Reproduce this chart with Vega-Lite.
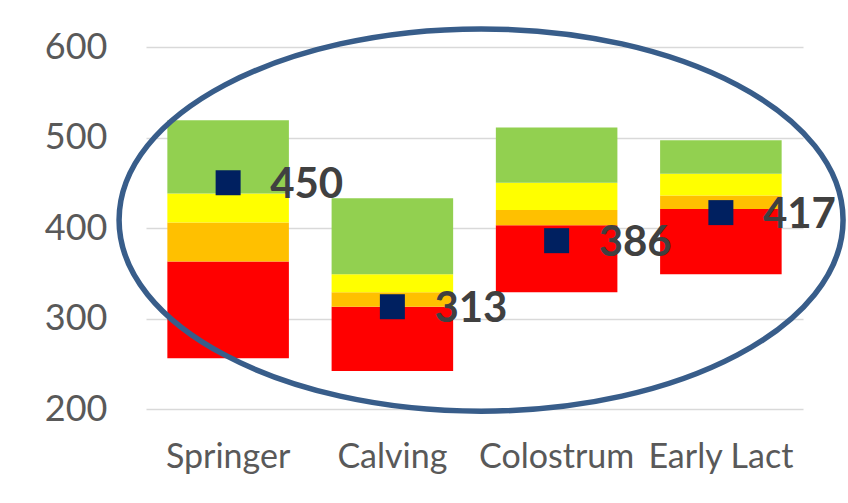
{
  "$schema": "https://vega.github.io/schema/vega-lite/v6.json",
  "width": 657,
  "height": 362,
  "autosize": {"type": "none"},
  "padding": {"left": 146, "top": 47, "right": 45, "bottom": 94},
  "background": "white",
  "config": {"view": {"stroke": null}, "font": "Lato"},
  "datasets": {
    "bands": [
      {"stage": "Springer", "zone": "Red", "low": 256, "high": 363},
      {"stage": "Springer", "zone": "Orange", "low": 363, "high": 406},
      {"stage": "Springer", "zone": "Yellow", "low": 406, "high": 438},
      {"stage": "Springer", "zone": "Green", "low": 438, "high": 519},
      {"stage": "Calving", "zone": "Red", "low": 242, "high": 313},
      {"stage": "Calving", "zone": "Orange", "low": 313, "high": 329},
      {"stage": "Calving", "zone": "Yellow", "low": 329, "high": 349},
      {"stage": "Calving", "zone": "Green", "low": 349, "high": 433},
      {"stage": "Colostrum", "zone": "Red", "low": 329, "high": 403},
      {"stage": "Colostrum", "zone": "Orange", "low": 403, "high": 420},
      {"stage": "Colostrum", "zone": "Yellow", "low": 420, "high": 450},
      {"stage": "Colostrum", "zone": "Green", "low": 450, "high": 511},
      {"stage": "Early Lact", "zone": "Red", "low": 349, "high": 421},
      {"stage": "Early Lact", "zone": "Orange", "low": 421, "high": 436},
      {"stage": "Early Lact", "zone": "Yellow", "low": 436, "high": 460},
      {"stage": "Early Lact", "zone": "Green", "low": 460, "high": 497}
    ],
    "scores": [
      {"stage": "Springer", "score": 450},
      {"stage": "Calving", "score": 313},
      {"stage": "Colostrum", "score": 386},
      {"stage": "Early Lact", "score": 417}
    ]
  },
  "layer": [
    {
      "layer": [
        {
          "data": {"name": "bands"},
          "mark": {"type": "bar"},
          "encoding": {
            "x": {
              "field": "stage",
              "type": "nominal",
              "sort": ["Springer", "Calving", "Colostrum", "Early Lact"],
              "scale": {"paddingInner": 0.26, "paddingOuter": 0.13},
              "axis": {
                "title": null,
                "labelAngle": 0,
                "domain": false,
                "ticks": false,
                "labelFontSize": 34,
                "labelColor": "#595959",
                "labelPadding": 31,
                "labelBaseline": "top"
              }
            },
            "y": {
              "field": "low",
              "type": "quantitative",
              "scale": {"domain": [200, 600], "nice": false, "zero": false},
              "axis": {
                "title": null,
                "values": [200, 300, 400, 500, 600],
                "domain": false,
                "ticks": false,
                "labelFontSize": 36,
                "labelColor": "#595959",
                "labelPadding": 39,
                "gridColor": "#D9D9D9",
                "gridWidth": 1.5
              }
            },
            "y2": {"field": "high"},
            "color": {
              "field": "zone",
              "type": "nominal",
              "scale": {
                "domain": ["Red", "Orange", "Yellow", "Green"],
                "range": ["#FF0000", "#FFC000", "#FFFF00", "#92D050"]
              },
              "legend": null
            }
          }
        },
        {
          "data": {"name": "scores"},
          "mark": {"type": "square", "size": 625, "color": "#002060", "opacity": 1},
          "encoding": {
            "x": {"field": "stage", "type": "nominal", "sort": ["Springer", "Calving", "Colostrum", "Early Lact"]},
            "y": {"field": "score", "type": "quantitative"}
          }
        },
        {
          "data": {"name": "scores"},
          "mark": {
            "type": "text",
            "align": "left",
            "baseline": "middle",
            "dx": 42,
            "dy": 2,
            "fontSize": 42,
            "fontWeight": "bold",
            "color": "#404040"
          },
          "encoding": {
            "x": {"field": "stage", "type": "nominal", "sort": ["Springer", "Calving", "Colostrum", "Early Lact"]},
            "y": {"field": "score", "type": "quantitative"},
            "text": {"field": "score", "type": "quantitative"}
          }
        }
      ]
    },
    {
      "data": {"values": [{}]},
      "mark": {
        "type": "point",
        "shape": "M -1 0 A 1 0.528 0 1 1 1 0 A 1 0.528 0 1 1 -1 0 Z",
        "size": 524176,
        "filled": false,
        "color": "#385D8A",
        "strokeWidth": 5.5,
        "opacity": 1
      },
      "encoding": {
        "x": {"datum": 2.04, "type": "quantitative", "scale": {"domain": [0, 4], "nice": false, "zero": false}, "axis": null},
        "y": {"datum": 408.8, "type": "quantitative"}
      }
    }
  ],
  "resolve": {"scale": {"x": "independent"}}
}
